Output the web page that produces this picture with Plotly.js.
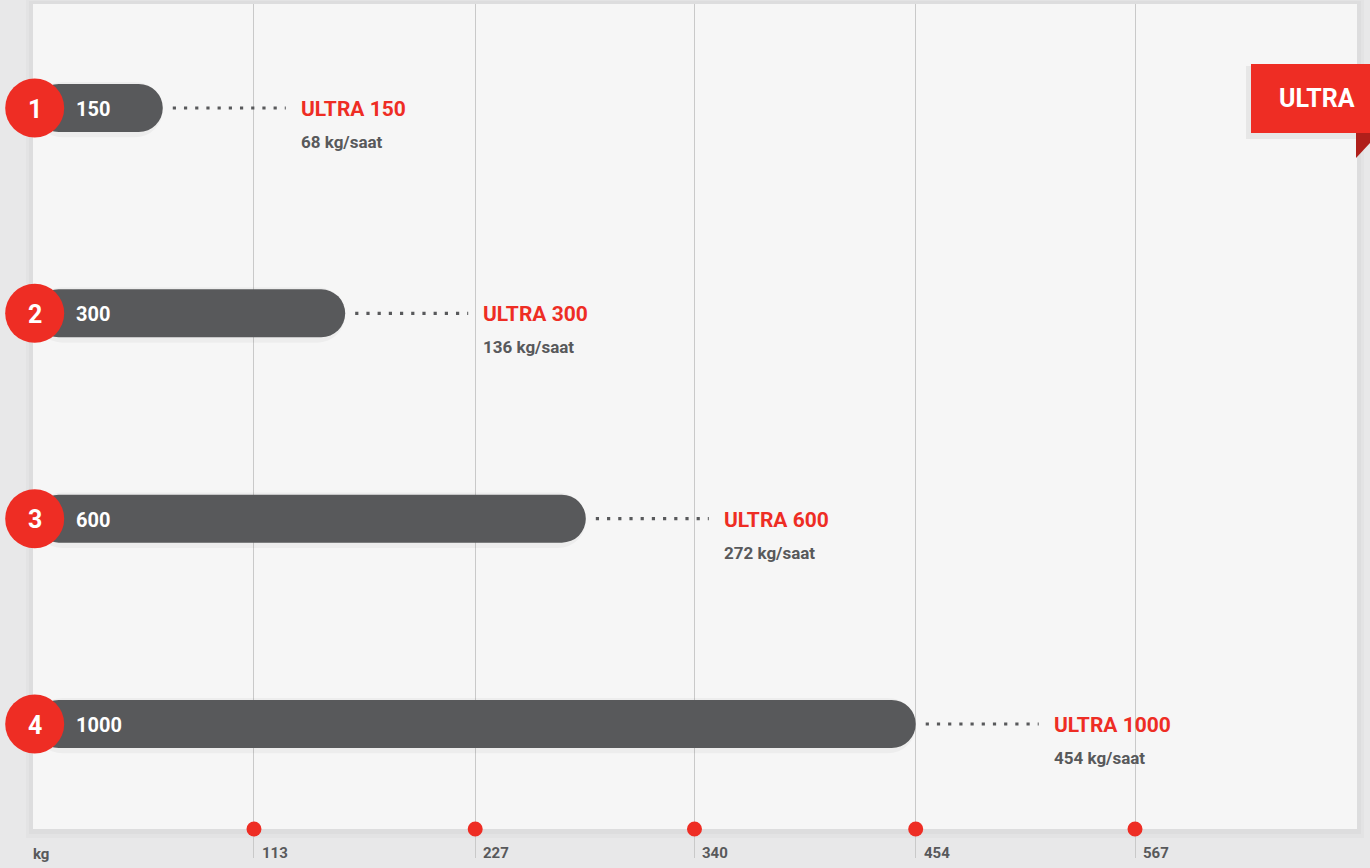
<!DOCTYPE html>
<html>
<head>
<meta charset="utf-8">
<script src="https://cdn.plot.ly/plotly-3.0.1.min.js"></script>
<style>
  html, body { margin: 0; padding: 0; background: #e8e8e9; }
  #chart { width: 1370px; height: 868px; }
</style>
</head>
<body>
<div id="chart"></div>
<script>
// ---- data ----
const categories  = ['1', '2', '3', '4'];
const barValues   = ['150', '300', '600', '1000'];
const modelNames  = ['ULTRA 150', 'ULTRA 300', 'ULTRA 600', 'ULTRA 1000'];
const capacities  = ['68 kg/saat', '136 kg/saat', '272 kg/saat', '454 kg/saat'];
const barLengths  = [66, 160, 284, 454];           // bar extent
const tickVals    = [113, 227, 340, 454, 567];
const tickLabels  = ['113', '227', '340', '454', '567'];
const axisUnit    = 'kg';
const badgeText   = 'ULTRA';

// ---- layout helpers (pixel -> paper) ----
const W = 1370, H = 868, MT = 4, MB = 10, PH = H - MT - MB;
const px = x => x / W;
const py = y => (H - MB - y) / PH;

const RED = '#ee2d24', DARK = '#58595b', FONT = 'Roboto, "Open Sans", sans-serif';

const traces = [
  {
    type: 'bar', orientation: 'h',
    x: barLengths, y: categories,
    width: 0.27, base: 0,
    offset: -0.127,
    marker: { color: 'rgba(0,0,0,0.035)', cornerradius: 28 },
    hoverinfo: 'skip'
  },
  {
    type: 'bar', orientation: 'h',
    x: barLengths, y: categories,
    width: 0.234, base: 0,
    offset: -0.117,
    marker: { color: DARK, cornerradius: 24 },
    hoverinfo: 'skip'
  },
  {
    type: 'scatter', mode: 'markers',
    x: categories.map(() => 0), y: categories,
    marker: { size: 59, color: RED, line: { width: 0 } },
    cliponaxis: false,
    hoverinfo: 'skip'
  }
];

const shapes = [
  // panel shadow + panel
  { type: 'rect', xref: 'paper', yref: 'paper', layer: 'below',
    x0: px(26), x1: px(1364), y0: py(838), y1: py(0),
    fillcolor: 'rgba(0,0,0,0.02)', line: { width: 0 } },
  { type: 'rect', xref: 'paper', yref: 'paper', layer: 'below',
    x0: px(29), x1: px(1361), y0: py(834), y1: py(1),
    fillcolor: 'rgba(0,0,0,0.025)', line: { width: 0 } },
  { type: 'rect', xref: 'paper', yref: 'paper', layer: 'below',
    x0: px(33), x1: px(1357), y0: py(829), y1: py(4),
    fillcolor: '#f6f6f6', line: { width: 0 } },
  // badge shadow, badge, fold
  { type: 'rect', xref: 'paper', yref: 'paper', layer: 'above',
    x0: px(1246), x1: px(1370), y0: py(139), y1: py(66),
    fillcolor: 'rgba(0,0,0,0.06)', line: { width: 0 } },
  { type: 'rect', xref: 'paper', yref: 'paper', layer: 'above',
    x0: px(1251), x1: px(1372), y0: py(133), y1: py(64),
    fillcolor: RED, line: { width: 0 } },
  { type: 'path', xref: 'paper', yref: 'paper', layer: 'above',
    path: `M ${px(1356)} ${py(133)} L ${px(1370)} ${py(133)} L ${px(1370)} ${py(143)} L ${px(1356)} ${py(158)} Z`,
    fillcolor: '#b01f1a', line: { width: 0 } }
];

// dotted leaders from each bar end
barLengths.forEach((v, i) => {
  shapes.push({
    type: 'line', xref: 'x', yref: 'y', layer: 'above',
    xsizemode: 'pixel', xanchor: v, x0: 10, x1: 123,
    y0: i, y1: i,
    line: { color: '#58595b', width: 3.2, dash: '3.2px,8px' }
  });
});

// red dots on the kg axis
tickVals.forEach(v => {
  shapes.push({
    type: 'circle', xref: 'x', yref: 'paper', layer: 'above',
    xsizemode: 'pixel', xanchor: v, x0: -7.5, x1: 7.5,
    ysizemode: 'pixel', yanchor: py(829), y0: -7.5, y1: 7.5,
    fillcolor: RED, line: { width: 0 }
  });
});

const annotations = [];
categories.forEach((c, i) => {
  annotations.push({
    x: 0, y: i, xref: 'x', yref: 'y', xanchor: 'center', yanchor: 'middle',
    yshift: -1, showarrow: false, text: c,
    font: { family: FONT, size: 25, color: '#ffffff', weight: 700 }
  });
  annotations.push({
    x: 0, y: i, xref: 'x', yref: 'y', xanchor: 'left', yanchor: 'middle',
    xshift: 39, yshift: -1, showarrow: false, text: barValues[i],
    font: { family: FONT, size: 20, color: '#ffffff', weight: 700 }
  });
  annotations.push({
    x: barLengths[i], y: i, xref: 'x', yref: 'y', xanchor: 'left', yanchor: 'middle',
    xshift: 136, yshift: -1, showarrow: false, text: modelNames[i],
    font: { family: FONT, size: 21, color: RED, weight: 700 }
  });
  annotations.push({
    x: barLengths[i], y: i, xref: 'x', yref: 'y', xanchor: 'left', yanchor: 'middle',
    xshift: 136, yshift: -34, showarrow: false, text: capacities[i],
    font: { family: FONT, size: 17, color: DARK, weight: 700 }
  });
});
tickVals.forEach((v, i) => {
  annotations.push({
    x: v, y: py(853), xref: 'x', yref: 'paper', xanchor: 'left', yanchor: 'middle',
    xshift: 6, showarrow: false, text: tickLabels[i],
    font: { family: FONT, size: 15, color: DARK, weight: 700 }
  });
});
annotations.push({
  x: px(31), y: py(854), xref: 'paper', yref: 'paper', xanchor: 'left', yanchor: 'middle',
  showarrow: false, text: axisUnit,
  font: { family: FONT, size: 15, color: DARK, weight: 700 }
});
annotations.push({
  x: px(1317), y: py(98), xref: 'paper', yref: 'paper', xanchor: 'center', yanchor: 'middle',
  showarrow: false, text: badgeText,
  font: { family: FONT, size: 25, color: '#ffffff', weight: 700 }
});

const layout = {
  width: W, height: H,
  margin: { l: 0, r: 0, t: MT, b: MB, pad: 0 },
  paper_bgcolor: '#e8e8e9',
  plot_bgcolor: 'rgba(0,0,0,0)',
  showlegend: false,
  barmode: 'overlay',
  xaxis: {
    range: [-17.88, 688.1],
    tickmode: 'array', tickvals: tickVals,
    showticklabels: false, ticks: '',
    showgrid: true, gridcolor: '#c9c9c9', gridwidth: 1,
    zeroline: false, showline: false, fixedrange: true
  },
  yaxis: {
    type: 'category', categoryorder: 'array', categoryarray: categories,
    range: [3.6526, -0.5065],
    showticklabels: false, ticks: '', showgrid: false,
    zeroline: false, showline: false, fixedrange: true
  },
  shapes: shapes,
  annotations: annotations,
  font: { family: FONT }
};

Plotly.newPlot('chart', traces, layout, { staticPlot: true, displayModeBar: false });
</script>
</body>
</html>
